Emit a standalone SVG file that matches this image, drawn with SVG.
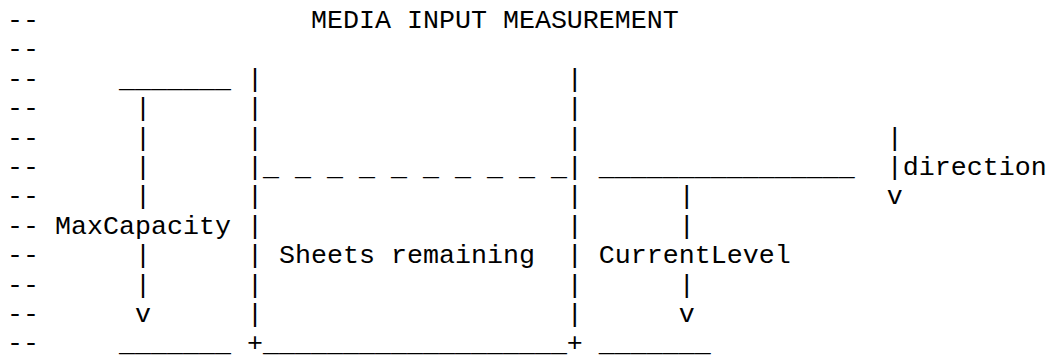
<svg xmlns="http://www.w3.org/2000/svg" width="1047" height="356" viewBox="0 0 1047 356">
<style>
text { font-family: "Liberation Mono", "Courier New", monospace; font-size: 26.67px; fill: #000; white-space: pre; }
</style>
<rect width="1047" height="356" fill="#fff"/>
<g id="ascii-diagram">
<text x="7" y="28" xml:space="preserve">--                 MEDIA INPUT MEASUREMENT</text>
<text x="7" y="57.4" xml:space="preserve">--</text>
<text x="7" y="86.8" xml:space="preserve">--     _______ |                   |</text>
<text x="7" y="116.2" xml:space="preserve">--      |      |                   |</text>
<text x="7" y="145.6" xml:space="preserve">--      |      |                   |                   |</text>
<text x="7" y="175" xml:space="preserve">--      |      |_ _ _ _ _ _ _ _ _ _| ________________  |direction</text>
<text x="7" y="204.4" xml:space="preserve">--      |      |                   |      |            v</text>
<text x="7" y="233.8" xml:space="preserve">-- MaxCapacity |                   |      |</text>
<text x="7" y="263.2" xml:space="preserve">--      |      | Sheets remaining  | CurrentLevel</text>
<text x="7" y="292.6" xml:space="preserve">--      |      |                   |      |</text>
<text x="7" y="322" xml:space="preserve">--      v      |                   |      v</text>
<text x="7" y="351.4" xml:space="preserve">--     _______ +___________________+ _______</text>
</g>
</svg>
